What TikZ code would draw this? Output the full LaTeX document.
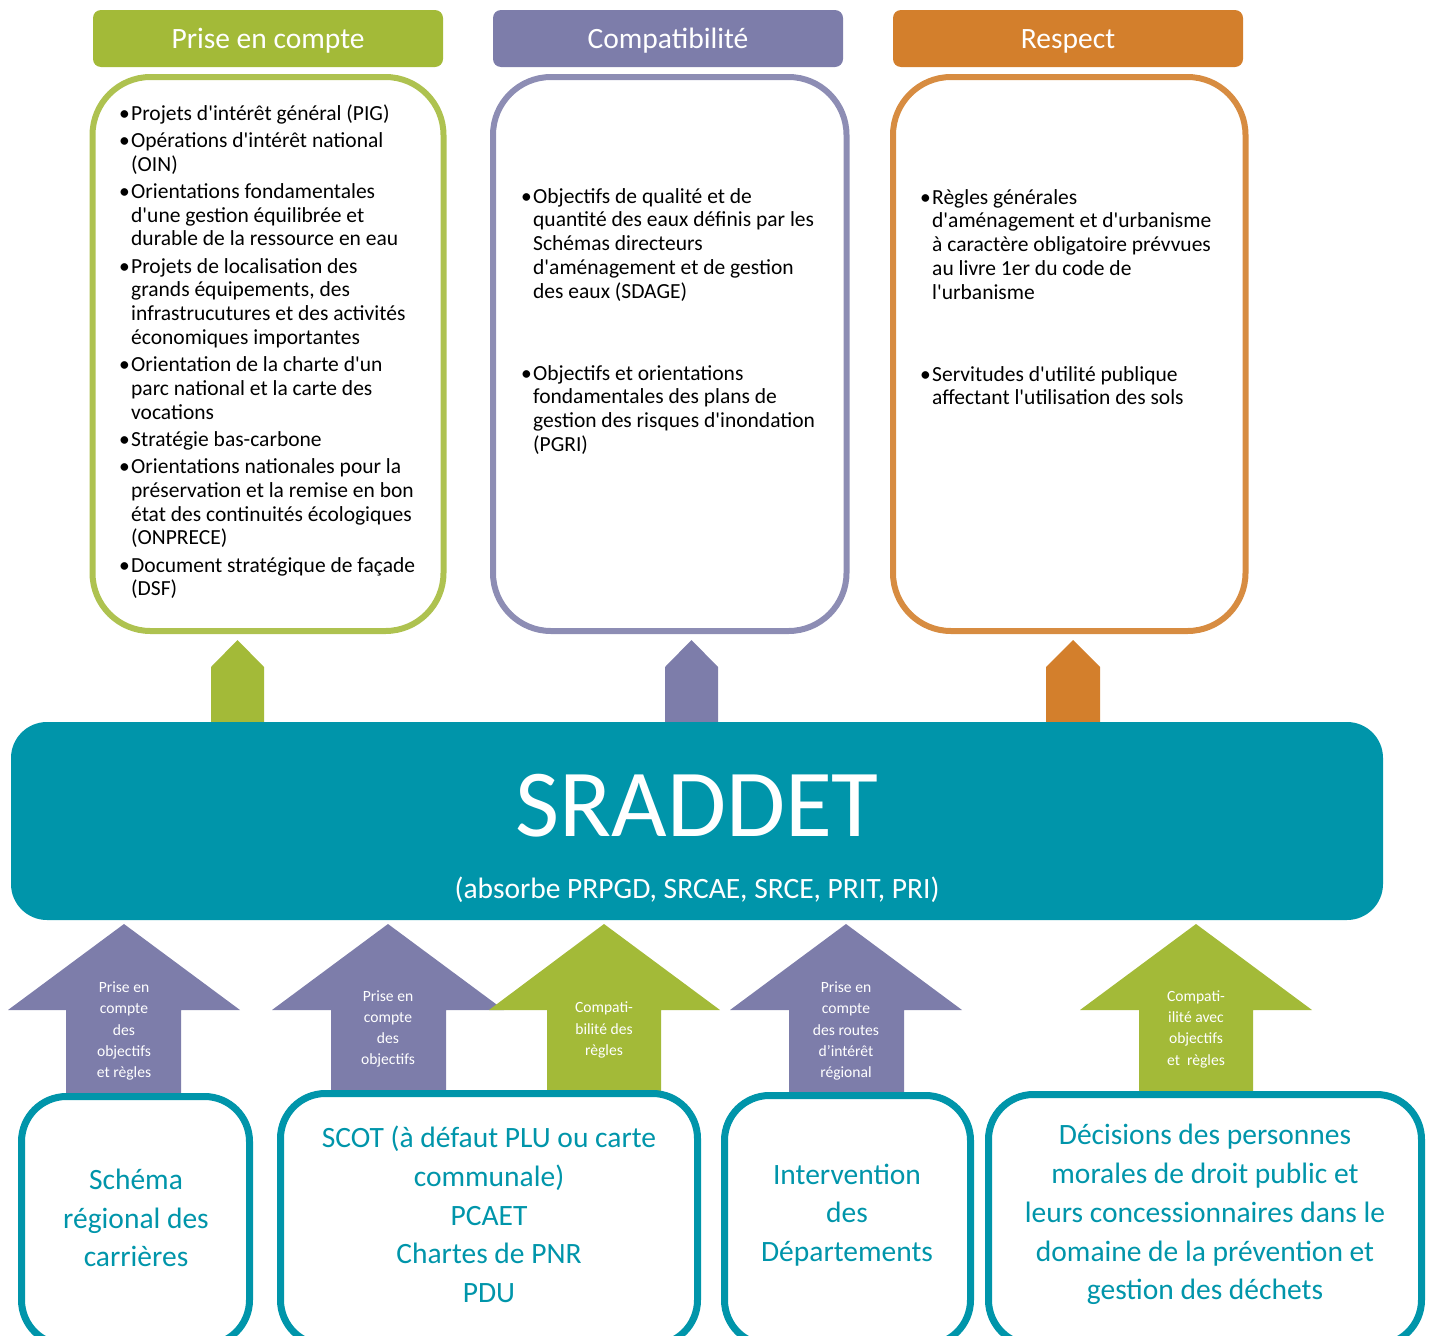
\documentclass[tikz,border=0pt]{standalone}
\usepackage{fontspec}
\setmainfont{Carlito}[Ligatures=TeXOff]
\usepackage{tikz}
\usetikzlibrary{positioning, calc}

\definecolor{vertP}{RGB}{163,186,56}
\definecolor{violetC}{RGB}{125,125,170}
\definecolor{orangeR}{RGB}{211,127,44}
\definecolor{bleuS}{RGB}{0,149,170}

\begin{document}
\begin{tikzpicture}[x=1pt, y=-1pt,
    titre/.style={rounded corners=8pt, minimum width=350pt, minimum height=57pt, inner sep=0pt, text height=24pt, text depth=4pt, text=white, font=\fontsize{29.5}{33}\selectfont},
    cadre/.style={line width=6pt, rounded corners=58pt},
    liste/.style={anchor=north west, inner sep=0pt, font=\fontsize{21.5}{23.7}\selectfont},
    txtfleche/.style={text=white, align=center, font=\fontsize{15.6}{21.3}\selectfont},
    bas/.style={draw=bleuS, line width=7pt, rounded corners=45pt},
    txtbas/.style={text=bleuS, align=center, font=\fontsize{29.5}{38.8}\selectfont}]
  \useasboundingbox (0,0) rectangle (1433,1336);

  % titres
  \node[titre, fill=vertP] (pec) at (268,38.5) {Prise en compte};
  \node[titre, fill=violetC] (compat) at (668,38.5) {Compatibilité};
  \node[titre, fill=orangeR] (resp) at (1068,38.5) {Respect};

  % cadres du haut
  \draw[cadre, draw=vertP!88!white] (92.5,77) rectangle (443.5,631);
  \draw[cadre, draw=violetC!88!white] (493,77) rectangle (846.5,631);
  \draw[cadre, draw=orangeR!90!white] (893,77) rectangle (1245.5,631);

  \node[liste] (lpec) at (119,103.5) {\begin{tabular}{@{}p{12pt}@{}l@{}}
    \textbullet & Projets d'intérêt général (PIG)\\[3.6pt]
    \textbullet & Opérations d'intérêt national\\
     & (OIN)\\[3.6pt]
    \textbullet & Orientations fondamentales\\
     & d'une gestion équilibrée et\\
     & durable de la ressource en eau\\[3.6pt]
    \textbullet & Projets de localisation des\\
     & grands équipements, des\\
     & infrastrucutures et des activités\\
     & économiques importantes\\[3.6pt]
    \textbullet & Orientation de la charte d'un\\
     & parc national et la carte des\\
     & vocations\\[3.6pt]
    \textbullet & Stratégie bas-carbone\\[3.6pt]
    \textbullet & Orientations nationales pour la\\
     & préservation et la remise en bon\\
     & état des continuités écologiques\\
     & (ONPRECE)\\[3.6pt]
    \textbullet & Document stratégique de façade\\
     & (DSF)
  \end{tabular}};

  \node[liste] (lcompat) at (521,186.5) {\begin{tabular}{@{}p{12pt}@{}l@{}}
    \textbullet & Objectifs de qualité et de\\
     & quantité des eaux définis par les\\
     & Schémas directeurs\\
     & d'aménagement et de gestion\\
     & des eaux (SDAGE)\\[58.4pt]
    \textbullet & Objectifs et orientations\\
     & fondamentales des plans de\\
     & gestion des risques d'inondation\\
     & (PGRI)
  \end{tabular}};

  \node[liste] (lresp) at (920,187.5) {\begin{tabular}{@{}p{12pt}@{}l@{}}
    \textbullet & Règles générales\\
     & d'aménagement et d'urbanisme\\
     & à caractère obligatoire prévvues\\
     & au livre 1er du code de\\
     & l'urbanisme\\[58.4pt]
    \textbullet & Servitudes d'utilité publique\\
     & affectant l'utilisation des sols
  \end{tabular}};

  % petites fleches vers le haut
  \fill[vertP] (211,722) -- (211,667) -- (237.5,640) -- (264,667) -- (264,722) -- cycle;
  \fill[violetC] (665,722) -- (665,667) -- (691.5,640) -- (718,667) -- (718,722) -- cycle;
  \fill[orangeR] (1046,722) -- (1046,667) -- (1073,640) -- (1100,667) -- (1100,722) -- cycle;

  % SRADDET
  \node[fill=bleuS, rounded corners=36pt, minimum width=1372pt, minimum height=198pt] (sraddet) at (697,821) {};
  \node[anchor=base, text=white, font=\fontsize{96}{96}\selectfont] (nom) at (697,836) {SRADDET};
  \node[anchor=base, text=white, font=\fontsize{29.5}{33}\selectfont] (absorbe) at (697,898) {(absorbe PRPGD, SRCAE, SRCE, PRIT, PRI)};

  % grandes fleches
  \fill[violetC] (66,1095) |- (8,1010) -- (124,924) -- (240,1010) -| (181,1095) -- cycle;
  \fill[violetC] (331,1095) |- (272,1010) -- (388,924) -- (504,1010) -| (446,1095) -- cycle;
  \fill[vertP] (547,1095) |- (489,1010) -- (604,924) -- (720,1010) -| (661,1095) -- cycle;
  \fill[violetC] (789,1095) |- (730,1010) -- (846,924) -- (962,1010) -| (904,1095) -- cycle;
  \fill[vertP] (1139,1095) |- (1080,1010) -- (1196,924) -- (1312,1010) -| (1253,1095) -- cycle;

  \node[txtfleche] (f1) at (124,1031) {Prise en\\compte\\des\\objectifs\\et règles};
  \node[txtfleche] (f2) at (388,1029) {Prise en\\compte\\des\\objectifs};
  \node[txtfleche] (f3) at (604,1030) {Compati-\\bilité des\\règles};
  \node[txtfleche] (f4) at (846,1031) {Prise en\\compte\\des routes\\d’intérêt\\régional};
  \node[txtfleche] (f5) at (1196,1029) {Compati-\\ilité avec\\objectifs\\et~ règles};

  % cadres du bas
  \draw[bas] (21.5,1096.5) rectangle (249.5,1345);
  \draw[bas] (280.5,1093.5) rectangle (697.5,1345);
  \draw[bas] (724.5,1095.5) rectangle (970.5,1345);
  \draw[bas] (988.5,1094.5) rectangle (1421.5,1345);

  \node[txtbas] (carr) at (136,1218) {Schéma\\régional des\\carrières};
  \node[txtbas] (scot) at (489,1214.5) {SCOT (à défaut PLU ou carte\\communale)\\PCAET\\Chartes de PNR\\PDU};
  \node[txtbas] (dep) at (847,1215) {Intervention\\des\\Départements};
  \node[txtbas] (dech) at (1205,1214.5) {Décisions des personnes\\morales de droit public et\\leurs concessionnaires dans le\\domaine de la prévention et\\gestion des déchets};
\end{tikzpicture}
\end{document}
